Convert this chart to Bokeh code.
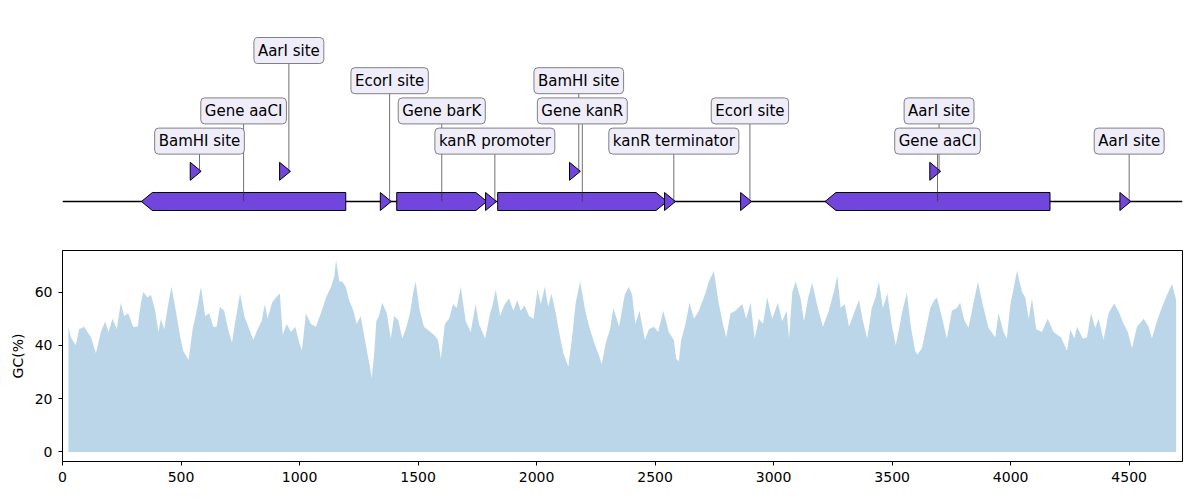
from bokeh.plotting import figure
from bokeh.models import Range1d, Label, FixedTicker, ColumnDataSource
from bokeh.layouts import column
from bokeh.embed import file_html
from bokeh.resources import INLINE

seq_length = 4725

# genes drawn as arrows on the main line
gene_labels = ["Gene aaCI", "Gene barK", "Gene kanR", "Gene aaCI"]
gene_start = [333, 1410, 1836, 3217]
gene_end = [1195, 1790, 2550, 4166]
gene_strand = [-1, 1, 1, -1]
gene_label_level = [3, 3, 3, 2]

# short sites drawn as small triangles
site_labels = ["BamHI site", "AarI site", "EcorI site", "kanR promoter", "BamHI site",
               "kanR terminator", "EcorI site", "AarI site", "AarI site"]
site_pos = [578, 955, 1380, 1824, 2178, 2579, 2900, 3698, 4500]
site_level = [1, 1, 0, 0, 1, 0, 0, 1, 0]
site_label_level = [2, 5, 4, 2, 4, 2, 3, 3, 2]

# GC content (%) read along the sequence
gc_pos = [25, 35, 56, 70, 91, 120, 141, 162, 180, 194,
          211, 229, 246, 260, 277, 298, 317, 331, 341, 359,
          373, 391, 405, 415, 429, 447, 460, 478, 495, 509,
          532, 549, 566, 584, 602, 619, 636, 650, 664, 682,
          699, 715, 727, 749, 767, 788, 805, 823, 840, 854,
          865, 884, 900, 917, 929, 946, 964, 982, 999, 1010,
          1027, 1048, 1069, 1090, 1112, 1133, 1147, 1154, 1168,
          1180, 1195, 1209, 1227, 1241, 1258, 1272, 1286, 1297, 1304,
          1314, 1324, 1335, 1349, 1368, 1385, 1399, 1416, 1434, 1451,
          1466, 1480, 1490, 1507, 1525, 1546, 1567, 1584, 1596, 1613,
          1631, 1648, 1663, 1680, 1701, 1722, 1743, 1757, 1783, 1804,
          1814, 1828, 1846, 1866, 1884, 1902, 1919, 1933, 1950, 1968,
          1987, 2004, 2018, 2035, 2049, 2063, 2081, 2095, 2113, 2134,
          2151, 2165, 2184, 2203, 2222, 2243, 2260, 2275, 2292, 2310,
          2324, 2348,
          2358, 2372, 2389, 2403, 2417, 2434, 2457, 2474, 2495, 2513,
          2534, 2558, 2579, 2589, 2600, 2610, 2628, 2645, 2664, 2685,
          2710, 2727, 2748, 2766, 2786, 2800, 2818, 2839, 2868, 2884,
          2903, 2920, 2938, 2955, 2973, 2994, 3018, 3036, 3055, 3065,
          3079, 3093, 3114, 3128, 3146, 3163, 3184, 3208, 3233, 3255,
          3269, 3283, 3300, 3318, 3343, 3360, 3377, 3395, 3414, 3430,
          3444, 3461, 3480, 3498, 3515,
          3527, 3541, 3562, 3579, 3597, 3607, 3626, 3647, 3661, 3678,
          3689, 3706, 3731, 3752, 3773, 3787, 3804, 3822, 3841, 3862,
          3883, 3907, 3935, 3949, 3970, 3984, 3998, 4015, 4027, 4048,
          4062, 4076, 4090, 4108, 4132, 4156, 4181, 4212, 4238, 4252,
          4269, 4280, 4305, 4322, 4339, 4357, 4371, 4392, 4413, 4437,
          4456, 4477, 4494, 4512, 4533, 4561, 4582, 4596, 4617, 4639,
          4660, 4681, 4698]
gc_val = [47, 43, 40, 46, 47, 43, 37, 45, 49, 45,
          50, 46, 56, 51, 52, 47, 47, 56, 60, 58,
          59, 53, 45, 50, 46, 56, 62, 53, 44, 38,
          34.5, 46, 53, 62, 51, 52, 47, 47, 54.5, 53,
          46, 41, 48, 59.5, 51, 46, 42, 46, 49, 55.5,
          50, 56, 58, 59.5, 44, 48, 45, 47, 41, 38,
          52, 48, 47, 52, 58, 62, 66, 72, 64,
          64, 62, 57, 53, 48, 51, 44, 37, 32, 27.6,
          36, 49, 51, 56, 52, 42.6, 51, 49.5, 42.6, 47,
          52, 60, 64, 53, 47, 45.5, 44, 42, 35, 48,
          50, 55.5, 54, 62, 49, 45, 55.5, 48, 42.6, 52,
          55, 61, 51, 55.5, 57.6, 53, 57, 53, 55, 51,
          50, 61, 55.5, 62, 54.5, 59.5, 52, 45, 37, 32,
          44, 56, 64, 54, 47, 41, 37, 33, 41, 46,
          54, 47,
          52, 59, 62, 59, 48, 53, 42, 46, 47, 45,
          53, 45, 42, 35, 34, 42, 48, 56, 50, 53,
          59, 64, 68, 57, 48, 43, 52, 53, 55.5, 50,
          56, 42.6, 50, 48, 58, 50, 56, 49, 53, 42.6,
          60, 64, 57.5, 49, 58, 63.5, 55, 47, 53, 60.5,
          66, 54, 55.5, 47, 53, 57, 49, 42.6, 54, 58,
          64, 54, 59.5, 48, 40,
          45, 52, 59.75, 47, 38, 36.5, 39, 48, 54, 57,
          58, 52, 42.6, 53, 54, 56, 49.5, 46.5, 55, 64,
          55, 46.5, 43, 52, 45, 42.6, 55, 62.6, 68, 60,
          58, 50, 57.6, 46, 45, 50, 45, 43, 38, 45.75,
          42.6, 47, 42.5, 43, 52, 46.5, 50, 42, 52, 55.75,
          52.6, 48, 45, 39, 47, 50, 47, 42.6, 49, 54.5,
          59, 63, 57]

x_ticks = [0, 500, 1000, 1500, 2000, 2500, 3000, 3500, 4000, 4500]
y_ticks = [0, 20, 40, 60]

FEATURE_COLOR = "#7245dc"
BOX_COLOR = "#efedfa"
LEVEL_GAP = 30.2   # px between levels
HALF_H = 9         # half height of a feature, px
HEAD = 46          # arrow head length, bp
FONT = "DejaVu Sans"

# ---- feature map ----
p1 = figure(width=1200, height=240, x_range=Range1d(0, seq_length), y_range=Range1d(-39, 201),
            output_backend="svg", toolbar_location=None, x_axis_type=None, y_axis_type=None,
            min_border_left=62, min_border_right=18, min_border_top=0, min_border_bottom=0)
p1.outline_line_color = None
p1.grid.visible = False

p1.line([0, seq_length], [0, 0], line_color="black", line_width=1.7)

xs, ys = [], []
for s, e, strand in zip(gene_start, gene_end, gene_strand):
    if strand > 0:
        xs.append([s, e - HEAD, e, e - HEAD, s])
    else:
        xs.append([e, s + HEAD, s, s + HEAD, e])
    ys.append([-HALF_H, -HALF_H, 0, HALF_H, HALF_H])
for pos, lev in zip(site_pos, site_level):
    y = lev * LEVEL_GAP
    xs.append([pos - 0.85 * HEAD, pos + 0.15 * HEAD, pos - 0.85 * HEAD])
    ys.append([y - HALF_H, y, y + HALF_H])
p1.patches(xs, ys, fill_color=FEATURE_COLOR, line_color="black", line_width=1)

# label lines
lx, ly0, ly1, ltext = [], [], [], []
for s, e, lab, ll in zip(gene_start, gene_end, gene_labels, gene_label_level):
    lx.append((s + e) / 2)
    ly0.append(0)
    ly1.append(ll * LEVEL_GAP)
    ltext.append(lab)
for pos, lev, lab, ll in zip(site_pos, site_level, site_labels, site_label_level):
    lx.append(pos)
    ly0.append(lev * LEVEL_GAP)
    ly1.append(ll * LEVEL_GAP)
    ltext.append(lab)
p1.segment(x0=lx, y0=ly0, x1=lx, y1=ly1, line_color="#333333", line_width=0.7)

for x, y, t in zip(lx, ly1, ltext):
    p1.add_layout(Label(x=x, y=y, text=t, text_align="center", text_baseline="middle",
                        text_font=FONT, text_font_size="15px", text_color="black",
                        background_fill_color=BOX_COLOR, background_fill_alpha=1,
                        border_line_color="#808080", border_line_width=1,
                        padding=4, border_radius=4))

# ---- GC content ----
gc_src = ColumnDataSource(data=dict(x=gc_pos, y=gc_val))
p2 = figure(width=1200, height=260, x_range=p1.x_range, y_range=Range1d(-3.6, 75.6),
            output_backend="svg", toolbar_location=None,
            min_border_left=62, min_border_right=18, min_border_top=10, min_border_bottom=39)
p2.varea(x="x", y1=0, y2="y", source=gc_src, fill_color="#1f77b4", fill_alpha=0.3)

p2.grid.visible = False
p2.outline_line_color = "black"
p2.outline_line_width = 1
p2.xaxis.ticker = FixedTicker(ticks=x_ticks)
p2.yaxis.ticker = FixedTicker(ticks=y_ticks)
p2.yaxis.axis_label = "GC(%)"
for ax in [p2.xaxis, p2.yaxis]:
    ax.axis_line_color = "black"
    ax.major_tick_line_color = "black"
    ax.major_tick_in = 0
    ax.major_tick_out = 4
    ax.minor_tick_line_color = None
    ax.major_label_text_font = FONT
    ax.major_label_text_font_size = "14px"
    ax.major_label_text_color = "black"
    ax.axis_label_text_font = FONT
    ax.axis_label_text_font_size = "14px"
    ax.axis_label_text_font_style = "normal"
    ax.axis_label_text_color = "black"
p2.xaxis.major_label_standoff = 6
p2.yaxis.major_label_standoff = 6
p2.yaxis.axis_label_standoff = 6

layout = column(p1, p2)
open("out.html", "w").write(file_html(layout, INLINE))
